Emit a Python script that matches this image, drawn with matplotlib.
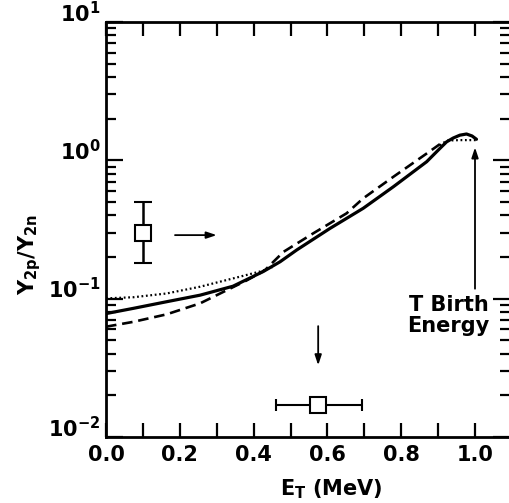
import matplotlib
matplotlib.use("Agg")
import matplotlib.pyplot as plt
import numpy as np
from matplotlib.ticker import MultipleLocator, LogLocator, NullFormatter, FixedLocator

plt.rcParams['font.family'] = ['DejaVu Sans']
plt.rcParams['font.weight'] = 'bold'
plt.rcParams['mathtext.fontset'] = 'custom'
plt.rcParams['mathtext.rm'] = 'DejaVu Sans:bold'
plt.rcParams['mathtext.bf'] = 'DejaVu Sans:bold'
plt.rcParams['mathtext.it'] = 'DejaVu Sans:bold'

# Solid curve
solid_x = [0.0, 0.074, 0.164, 0.255, 0.344, 0.426, 0.472, 0.517, 0.607, 0.697,
           0.779, 0.869, 0.905, 0.923, 0.941, 0.959, 0.977, 0.992, 1.004]
solid_y = [0.0780, 0.0851, 0.0950, 0.106, 0.123, 0.157, 0.185, 0.225, 0.322, 0.450,
           0.645, 0.977, 1.22, 1.36, 1.45, 1.52, 1.55, 1.50, 1.42]
# Dashed curve
dash_x = [0.0, 0.074, 0.164, 0.255, 0.327, 0.38, 0.43, 0.481, 0.562, 0.652,
          0.697, 0.779, 0.869, 0.905]
dash_y = [0.0627, 0.068, 0.077, 0.0925, 0.115, 0.135, 0.160, 0.218, 0.297, 0.414,
          0.531, 0.761, 1.12, 1.31]
# Dotted curve (two segments)
dot1_x = [0.0, 0.074, 0.164, 0.255, 0.344, 0.417, 0.45]
dot1_y = [0.1005, 0.1024, 0.109, 0.122, 0.140, 0.157, 0.168]
dot2_x = [0.905, 0.923, 0.959, 0.977, 1.004]
dot2_y = [1.28, 1.39, 1.40, 1.40, 1.40]

# Data points
pt1_x, pt1_y, pt1_lo, pt1_hi = 0.1, 0.298, 0.18, 0.50
pt2_x, pt2_y, pt2_xlo, pt2_xhi = 0.575, 0.017, 0.461, 0.694

xticks = [0.0, 0.2, 0.4, 0.6, 0.8, 1.0]
xticklabels = ['0.0', '0.2', '0.4', '0.6', '0.8', '1.0']

fig = plt.figure(figsize=(5.09, 5.03), dpi=100)
ax = fig.add_axes([106/509, 1-437/503, 404/509, (437-22)/503])

ax.plot(solid_x, solid_y, color='black', lw=2.3, solid_capstyle='round', solid_joinstyle='round')
ax.plot(dash_x, dash_y, color='black', lw=1.9, dashes=(4, 2.2))
ax.plot(dot1_x, dot1_y, color='black', lw=1.6, linestyle=(0, (0.8, 1.2)))
ax.plot(dot2_x, dot2_y, color='black', lw=1.6, linestyle=(0, (0.8, 1.2)))

ax.errorbar([pt1_x], [pt1_y], yerr=[[pt1_y - pt1_lo], [pt1_hi - pt1_y]], fmt='s',
            ms=12, mfc='white', mec='black', mew=1.5, ecolor='black', elinewidth=1.8,
            capsize=6.5, capthick=1.8)
ax.errorbar([pt2_x], [pt2_y], xerr=[[pt2_x - pt2_xlo], [pt2_xhi - pt2_x]], fmt='s',
            ms=12, mfc='white', mec='black', mew=1.5, ecolor='black', elinewidth=1.5,
            capsize=4, capthick=1.5)

arrow = dict(arrowstyle='-|>,head_length=0.6,head_width=0.2', color='black', lw=1.3,
             shrinkA=0, shrinkB=0)
ax.annotate('', xy=(0.30, 0.288), xytext=(0.187, 0.288), arrowprops=arrow)
ax.annotate('', xy=(0.575, 0.033), xytext=(0.575, 0.0633), arrowprops=arrow)
ax.annotate('', xy=(1.0, 1.24), xytext=(1.0, 0.118), arrowprops=arrow)

ax.text(1.038, 0.076, 'T Birth\nEnergy', ha='right', va='center', fontsize=15,
        fontweight='bold', linespacing=1.05)

ax.set_yscale('log')
ax.set_xlim(0, 404/369)
ax.set_ylim(0.01, 10)

ax.xaxis.set_major_locator(FixedLocator(xticks))
ax.set_xticklabels(xticklabels)
ax.xaxis.set_minor_locator(MultipleLocator(0.1))
ax.yaxis.set_major_locator(LogLocator(base=10, numticks=10))
ax.yaxis.set_minor_locator(LogLocator(base=10, subs=np.arange(2, 10), numticks=10))
ax.yaxis.set_minor_formatter(NullFormatter())

ax.tick_params(axis='both', which='both', direction='in', top=True, right=True,
               labelsize=15, width=1.6)
ax.tick_params(axis='x', which='both', length=10, pad=6)
ax.tick_params(axis='y', which='major', length=12, pad=4)
ax.tick_params(axis='y', which='minor', length=7)
for lab in ax.get_xticklabels() + ax.get_yticklabels():
    lab.set_fontweight('bold')
for lab in ax.get_yticklabels():
    lab.set_verticalalignment('baseline')

ax.text(0.558, -0.140, r'E$_\mathregular{T}$ (MeV)', transform=ax.transAxes,
        ha='center', va='baseline', fontsize=15, fontweight='bold')
ax.set_ylabel(r'Y$_\mathregular{2p}$/Y$_\mathregular{2n}$', fontsize=15, fontweight='bold')
ax.yaxis.set_label_coords(-0.155, 0.44)
for s in ax.spines.values():
    s.set_linewidth(2)

fig.savefig('out.png', dpi=100)
